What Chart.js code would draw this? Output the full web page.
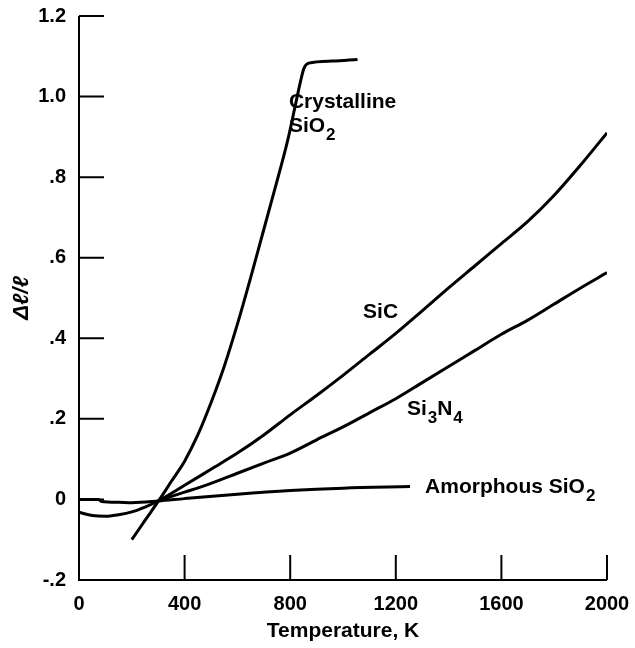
<!DOCTYPE html>
<html>
<head>
<meta charset="utf-8">
<script src="https://cdn.jsdelivr.net/npm/chart.js@4/dist/chart.umd.min.js"></script>
<style>
  html, body { margin: 0; padding: 0; background: #fff; }
  canvas { display: block; }
</style>
</head>
<body>
<canvas id="c" width="635" height="648"></canvas>
<script>
// values (temperature in K, delta l / l)
const crystallineT = [200, 250, 300, 350, 400, 450, 500, 550, 600, 650, 700, 750, 790, 820, 840, 852, 870, 960, 1055];
const crystallineDl = [-0.1, -0.052, -0.005, 0.045, 0.095, 0.16, 0.24, 0.33, 0.435, 0.55, 0.67, 0.79, 0.89, 0.98, 1.04, 1.07, 1.083, 1.088, 1.092];

const sicT = [0, 50, 100, 150, 200, 250, 300, 400, 500, 600, 700, 800, 900, 1000, 1100, 1200, 1300, 1400, 1500, 1600, 1700, 1800, 1900, 2000];
const sicDl = [-0.032, -0.04, -0.042, -0.038, -0.031, -0.019, -0.004, 0.035, 0.075, 0.115, 0.16, 0.21, 0.258, 0.308, 0.36, 0.412, 0.468, 0.525, 0.58, 0.635, 0.69, 0.755, 0.83, 0.91];

const si3n4T = [300, 400, 500, 600, 700, 800, 900, 1000, 1100, 1200, 1300, 1400, 1500, 1600, 1700, 1800, 1900, 2000];
const si3n4Dl = [-0.003, 0.018, 0.04, 0.065, 0.09, 0.115, 0.148, 0.18, 0.215, 0.25, 0.29, 0.33, 0.37, 0.41, 0.445, 0.485, 0.525, 0.563];

const amorphousT = [0, 75, 85, 150, 200, 300, 400, 600, 800, 1000, 1254];
const amorphousDl = [0, 0, -0.005, -0.007, -0.008, -0.004, 0.002, 0.013, 0.022, 0.028, 0.032];

const xTickValues = [0, 400, 800, 1200, 1600, 2000];
const xTickLabels = ['0', '400', '800', '1200', '1600', '2000'];
const yTickValues = [-0.2, 0, 0.2, 0.4, 0.6, 0.8, 1.0, 1.2];
const yTickLabels = ['-.2', '0', '.2', '.4', '.6', '.8', '1.0', '1.2'];

// curve labels, anchored in data coordinates (left edge, baseline)
const curveLabels = [
  { x: 795, y: 0.972, parts: [['Crystalline', false]] },
  { x: 795, y: 0.912, parts: [['SiO', false], ['2', true]] },
  { x: 1076, y: 0.451, parts: [['SiC', false]] },
  { x: 1242, y: 0.21, parts: [['Si', false], ['3', true], ['N', false], ['4', true]] },
  { x: 1311, y: 0.017, parts: [['Amorphous SiO', false], ['2', true]] },
];

const FONT = '"Liberation Sans", Arial, Helvetica, sans-serif';

function pts(xs, ys) {
  return xs.map((x, i) => ({ x: x, y: ys[i] }));
}

function curve(label, xs, ys) {
  return {
    label: label,
    data: pts(xs, ys),
    showLine: true,
    borderColor: '#000',
    borderWidth: 3,
    pointRadius: 0,
    cubicInterpolationMode: 'monotone',
    fill: false,
  };
}

// ticks point inward from the axes, like the original plot
const inwardTicks = {
  id: 'inwardTicks',
  afterDatasetsDraw(chart) {
    const ctx = chart.ctx;
    const xs = chart.scales.x;
    const ys = chart.scales.y;
    const area = chart.chartArea;
    const len = 25;
    ctx.save();
    ctx.strokeStyle = '#000';
    ctx.lineWidth = 2;
    ctx.beginPath();
    ctx.moveTo(area.left, area.top);
    ctx.lineTo(area.left, area.bottom);
    ctx.lineTo(area.right, area.bottom);
    ys.ticks.forEach(t => {
      const p = ys.getPixelForValue(t.value);
      ctx.moveTo(area.left, p);
      ctx.lineTo(area.left + len, p);
    });
    xs.ticks.forEach(t => {
      const p = xs.getPixelForValue(t.value);
      ctx.moveTo(p, area.bottom);
      ctx.lineTo(p, area.bottom - len);
    });
    ctx.stroke();
    ctx.restore();
  }
};

const labelPlugin = {
  id: 'curveLabels',
  afterDatasetsDraw(chart) {
    const ctx = chart.ctx;
    const xs = chart.scales.x;
    const ys = chart.scales.y;
    ctx.save();
    ctx.fillStyle = '#000';
    ctx.textBaseline = 'alphabetic';
    ctx.textAlign = 'left';
    curveLabels.forEach(l => {
      let px = xs.getPixelForValue(l.x);
      const py = ys.getPixelForValue(l.y);
      l.parts.forEach(([txt, sub]) => {
        ctx.font = (sub ? 'bold 17px ' : 'bold 21px ') + FONT;
        ctx.fillText(txt, px, sub ? py + 8 : py);
        px += ctx.measureText(txt).width + (sub ? 0 : 1);
      });
    });
    ctx.restore();
  }
};

new Chart(document.getElementById('c'), {
  type: 'scatter',
  data: {
    datasets: [
      curve('Crystalline SiO2', crystallineT, crystallineDl),
      curve('SiC', sicT, sicDl),
      curve('Si3N4', si3n4T, si3n4Dl),
      curve('Amorphous SiO2', amorphousT, amorphousDl),
    ]
  },
  options: {
    responsive: false,
    animation: false,
    layout: { padding: { left: 0, top: 16, right: 28, bottom: 0 } },
    plugins: {
      legend: { display: false },
      tooltip: { enabled: false },
    },
    scales: {
      x: {
        type: 'linear',
        min: 0,
        max: 2000,
        afterBuildTicks: s => { s.ticks = xTickValues.map(v => ({ value: v })); },
        afterFit: s => { s.height = 68; s.paddingLeft = 0; s.paddingRight = 0; },
        grid: { display: false, drawTicks: false },
        border: { display: false },
        ticks: {
          color: '#000',
          padding: 12,
          maxRotation: 0,
          font: { family: FONT, size: 20, weight: 'bold' },
          callback: v => xTickLabels[xTickValues.indexOf(v)],
        },
        title: {
          display: true,
          text: 'Temperature, K',
          color: '#000',
          font: { family: FONT, size: 21, weight: 'bold' },
          padding: { top: 0, bottom: 4 },
        },
      },
      y: {
        type: 'linear',
        min: -0.2,
        max: 1.2,
        afterBuildTicks: s => { s.ticks = yTickValues.map(v => ({ value: v })); },
        afterFit: s => { s.width = 79; s.paddingTop = 0; s.paddingBottom = 0; },
        grid: { display: false, drawTicks: false },
        border: { display: false },
        ticks: {
          color: '#000',
          padding: 13,
          font: { family: FONT, size: 20, weight: 'bold' },
          callback: v => {
            const i = yTickValues.findIndex(t => Math.abs(t - v) < 1e-9);
            return i >= 0 ? yTickLabels[i] : '';
          },
        },
        title: {
          display: true,
          text: 'Δℓ/ℓ',
          color: '#000',
          font: { family: FONT, size: 22, style: 'italic', weight: 'bold' },
          padding: { top: 9, bottom: 0 },
        },
      },
    },
  },
  plugins: [inwardTicks, labelPlugin],
});
</script>
</body>
</html>
